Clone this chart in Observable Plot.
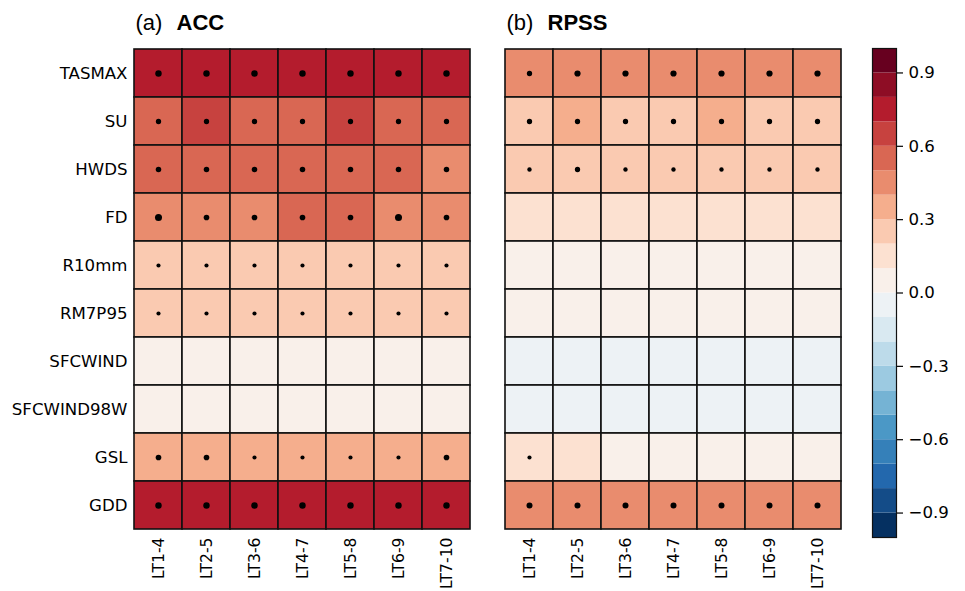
<!DOCTYPE html>
<html>
<head>
<meta charset="utf-8">
<script src="https://cdn.jsdelivr.net/npm/d3@7"></script>
<script src="https://cdn.jsdelivr.net/npm/@observablehq/plot@0.6"></script>
<style>
  html, body { margin: 0; padding: 0; background: #fff; }
  #wrap { position: relative; width: 965px; height: 591px; overflow: hidden; }
  #main { position: absolute; left: 0; top: 0; }
  #cbar { position: absolute; left: 850px; top: 0; }
</style>
</head>
<body>
<div id="wrap"><div id="main"></div><div id="cbar"></div></div>
<script>
// ---------- data ----------
const indices = ["TASMAX","SU","HWDS","FD","R10mm","RM7P95","SFCWIND","SFCWIND98W","GSL","GDD"];
const leadTimes = ["LT1-4","LT2-5","LT3-6","LT4-7","LT5-8","LT6-9","LT7-10"];
const metrics = ["ACC","RPSS"];
const panelTags = ["(a)","(b)"];

const accValues = [
  [0.75,0.75,0.75,0.75,0.75,0.75,0.75],
  [0.55,0.65,0.55,0.55,0.65,0.55,0.55],
  [0.55,0.55,0.55,0.55,0.55,0.55,0.45],
  [0.45,0.45,0.45,0.55,0.55,0.45,0.45],
  [0.25,0.25,0.25,0.25,0.25,0.25,0.25],
  [0.25,0.25,0.25,0.25,0.25,0.25,0.25],
  [0.05,0.05,0.05,0.05,0.05,0.05,0.05],
  [0.05,0.05,0.05,0.05,0.05,0.05,0.05],
  [0.35,0.35,0.35,0.35,0.35,0.35,0.35],
  [0.75,0.75,0.75,0.75,0.75,0.75,0.75]
];
const rpssValues = [
  [0.45,0.45,0.45,0.45,0.45,0.45,0.45],
  [0.25,0.35,0.25,0.25,0.35,0.25,0.25],
  [0.25,0.25,0.25,0.25,0.25,0.25,0.25],
  [0.15,0.15,0.15,0.15,0.15,0.15,0.15],
  [0.05,0.05,0.05,0.05,0.05,0.05,0.05],
  [0.05,0.05,0.05,0.05,0.05,0.05,0.05],
  [-0.05,-0.05,-0.05,-0.05,-0.05,-0.05,-0.05],
  [-0.05,-0.05,-0.05,-0.05,-0.05,-0.05,-0.05],
  [0.15,0.15,0.05,0.05,0.05,0.05,0.05],
  [0.45,0.45,0.45,0.45,0.45,0.45,0.45]
];
// significance strength (0 = not significant, no dot)
const accSignif = [
  [4,4,4,4,4,4,4],
  [3,3,3,3,3,3,3],
  [3.2,3.2,3.2,3.2,3.2,3.2,3.2],
  [4.5,3.3,3.3,3.3,3.3,4.5,3.3],
  [2,2,2,2,2,2,2],
  [2,2,2,2,2,2,2],
  [0,0,0,0,0,0,0],
  [0,0,0,0,0,0,0],
  [3.3,3.3,2,2,2,2,3.3],
  [4,4,4,4,4,4,4]
];
const rpssSignif = [
  [3,3.8,3.8,3.8,3.8,3.8,3.8],
  [3,3,3,3,3,3,3],
  [2.2,3,2.2,2.2,2.2,2.2,2.2],
  [0,0,0,0,0,0,0],
  [0,0,0,0,0,0,0],
  [0,0,0,0,0,0,0],
  [0,0,0,0,0,0,0],
  [0,0,0,0,0,0,0],
  [2,0,0,0,0,0,0],
  [3.6,3.6,3.6,3.6,3.6,3.6,3.6]
];
const colorbarTicks = [-0.9,-0.6,-0.3,0,0.3,0.6,0.9];
const levelStep = 0.1;
const levelMin = -1, levelMax = 1;

// ---------- derived ----------
const table = [];
[accValues, rpssValues].forEach((vals, m) => {
  const sig = m === 0 ? accSignif : rpssSignif;
  indices.forEach((ix, i) => leadTimes.forEach((lt, j) => {
    table.push({metric: metrics[m], index: ix, lt, value: vals[i][j], sig: sig[i][j]});
  }));
});
const nBins = Math.round((levelMax - levelMin) / levelStep);
const thresholds = d3.range(1, nBins).map(k => +(levelMin + k * levelStep).toFixed(2));
const bins = d3.range(nBins).map(k => ({lo: levelMin + k * levelStep, hi: levelMin + (k + 1) * levelStep, mid: levelMin + (k + 0.5) * levelStep}));
// matplotlib RdBu_r: linear RGB interpolation of ColorBrewer RdBu
const brewerRdBu = ["#67001f","#b2182b","#d6604d","#f4a582","#fddbc7","#f7f7f7","#d1e5f0","#92c5de","#4393c3","#2166ac","#053061"];
const rdbuR = d3.piecewise(d3.interpolateRgb, brewerRdBu.slice().reverse());
const binColors = d3.range(nBins).map(k => rdbuR(k / (nBins - 1)));
const colorScale = {type: "threshold", domain: thresholds, range: binColors};

const titles = metrics.map((m, i) => ({metric: m, tag: panelTags[i], name: m}));

const font = "'DejaVu Sans', sans-serif";
const titleFont = "'Liberation Sans', Arial, sans-serif";
const tickFontSize = 16.6;

const main = Plot.plot({
  width: 850, height: 591,
  marginLeft: 133, marginRight: 8, marginTop: 48, marginBottom: 61,
  style: {fontFamily: font, fontSize: "16.6px", color: "black", background: "white"},
  fx: {domain: metrics, padding: 0.089, axis: null, label: null},
  x: {domain: leadTimes, padding: 0, label: null},
  y: {domain: indices, padding: 0, label: null},
  color: colorScale,
  r: {type: "linear", domain: [1, 5], range: [1.5, 3.8]},
  marks: [
    Plot.cell(table, {fx: "metric", x: "lt", y: "index", fill: "value", stroke: "#111", strokeWidth: 1.6, inset: 0}),
    Plot.dot(table.filter(d => d.sig > 0), {fx: "metric", x: "lt", y: "index", r: "sig", fill: "black", stroke: "none"}),
    Plot.axisX({tickRotate: -90, tickSize: 0, tickPadding: 7, label: null, fontSize: 15.6}),
    Plot.axisY({tickSize: 0, tickPadding: 6, label: null, fontSize: tickFontSize}),
    Plot.text(titles, {fx: "metric", text: "tag", frameAnchor: "top-left", textAnchor: "start", lineAnchor: "bottom", dx: 2, dy: -19, fontSize: 22, fontFamily: titleFont, fill: "black"}),
    Plot.text(titles, {fx: "metric", text: "name", frameAnchor: "top-left", textAnchor: "start", lineAnchor: "bottom", dx: 43, dy: -19, fontSize: 22, fontWeight: "bold", fontFamily: titleFont, fill: "black"})
  ]
});
document.getElementById("main").appendChild(main);

const cbar = Plot.plot({
  width: 115, height: 591,
  marginLeft: 22, marginRight: 69, marginTop: 48, marginBottom: 54,
  style: {fontFamily: font, fontSize: "16.6px", color: "black", background: "white"},
  x: {axis: null},
  y: {domain: [levelMin, levelMax], label: null},
  color: colorScale,
  marks: [
    Plot.rect(bins, {y1: "lo", y2: "hi", fill: "mid"}),
    Plot.frame({stroke: "#111", strokeWidth: 1.2}),
    Plot.axisY({anchor: "right", ticks: colorbarTicks, tickFormat: d3.format(".1f"), tickSize: 6, tickPadding: 6, label: null, fontSize: tickFontSize, strokeWidth: 1.2})
  ]
});
document.getElementById("cbar").appendChild(cbar);
</script>
</body>
</html>
